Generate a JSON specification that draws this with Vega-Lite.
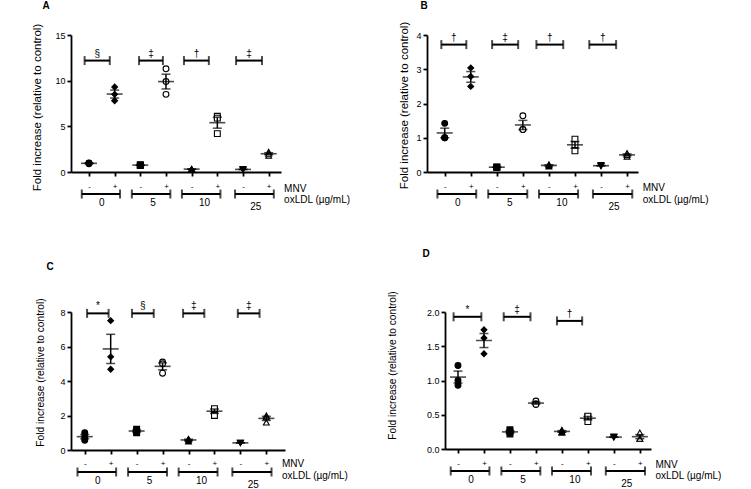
{
  "$schema": "https://vega.github.io/schema/vega-lite/v6.json",
  "padding": {"left": 31, "top": 0, "right": 5, "bottom": 0},
  "background": "white",
  "spacing": 36,
  "datasets": {
    "pts": [
      {"panel":"A","ox":"0","idx":0,"rep":1,"value":0.9},{"panel":"A","ox":"0","idx":0,"rep":2,"value":1.0},{"panel":"A","ox":"0","idx":0,"rep":3,"value":0.95},
      {"panel":"A","ox":"0","idx":1,"rep":1,"value":7.8},{"panel":"A","ox":"0","idx":1,"rep":2,"value":9.3},{"panel":"A","ox":"0","idx":1,"rep":3,"value":8.5},
      {"panel":"A","ox":"5","idx":2,"rep":1,"value":0.75},{"panel":"A","ox":"5","idx":2,"rep":2,"value":0.8},{"panel":"A","ox":"5","idx":2,"rep":3,"value":0.7},
      {"panel":"A","ox":"5","idx":3,"rep":1,"value":8.5},{"panel":"A","ox":"5","idx":3,"rep":2,"value":11.3},{"panel":"A","ox":"5","idx":3,"rep":3,"value":9.9},
      {"panel":"A","ox":"10","idx":4,"rep":1,"value":0.3},{"panel":"A","ox":"10","idx":4,"rep":2,"value":0.35},{"panel":"A","ox":"10","idx":4,"rep":3,"value":0.3},
      {"panel":"A","ox":"10","idx":5,"rep":1,"value":6.1},{"panel":"A","ox":"10","idx":5,"rep":2,"value":4.2},{"panel":"A","ox":"10","idx":5,"rep":3,"value":5.9},
      {"panel":"A","ox":"25","idx":6,"rep":1,"value":0.25},{"panel":"A","ox":"25","idx":6,"rep":2,"value":0.3},{"panel":"A","ox":"25","idx":6,"rep":3,"value":0.3},
      {"panel":"A","ox":"25","idx":7,"rep":1,"value":2.2},{"panel":"A","ox":"25","idx":7,"rep":2,"value":1.8},{"panel":"A","ox":"25","idx":7,"rep":3,"value":2.0},
      {"panel":"B","ox":"0","idx":0,"rep":1,"value":1.0},{"panel":"B","ox":"0","idx":0,"rep":2,"value":1.42},{"panel":"B","ox":"0","idx":0,"rep":3,"value":1.0},
      {"panel":"B","ox":"0","idx":1,"rep":1,"value":3.04},{"panel":"B","ox":"0","idx":1,"rep":2,"value":2.5},{"panel":"B","ox":"0","idx":1,"rep":3,"value":2.79},
      {"panel":"B","ox":"5","idx":2,"rep":1,"value":0.15},{"panel":"B","ox":"5","idx":2,"rep":2,"value":0.14},{"panel":"B","ox":"5","idx":2,"rep":3,"value":0.13},
      {"panel":"B","ox":"5","idx":3,"rep":1,"value":1.24},{"panel":"B","ox":"5","idx":3,"rep":2,"value":1.64},{"panel":"B","ox":"5","idx":3,"rep":3,"value":1.24},
      {"panel":"B","ox":"10","idx":4,"rep":1,"value":0.2},{"panel":"B","ox":"10","idx":4,"rep":2,"value":0.22},{"panel":"B","ox":"10","idx":4,"rep":3,"value":0.16},
      {"panel":"B","ox":"10","idx":5,"rep":1,"value":0.62},{"panel":"B","ox":"10","idx":5,"rep":2,"value":0.96},{"panel":"B","ox":"10","idx":5,"rep":3,"value":0.8},
      {"panel":"B","ox":"25","idx":6,"rep":1,"value":0.18},{"panel":"B","ox":"25","idx":6,"rep":2,"value":0.2},{"panel":"B","ox":"25","idx":6,"rep":3,"value":0.17},
      {"panel":"B","ox":"25","idx":7,"rep":1,"value":0.55},{"panel":"B","ox":"25","idx":7,"rep":2,"value":0.45},{"panel":"B","ox":"25","idx":7,"rep":3,"value":0.5},
      {"panel":"C","ox":"0","idx":0,"rep":1,"value":0.57},{"panel":"C","ox":"0","idx":0,"rep":2,"value":0.75},{"panel":"C","ox":"0","idx":0,"rep":3,"value":1.0},
      {"panel":"C","ox":"0","idx":1,"rep":1,"value":4.68},{"panel":"C","ox":"0","idx":1,"rep":2,"value":7.5},{"panel":"C","ox":"0","idx":1,"rep":3,"value":5.4},
      {"panel":"C","ox":"5","idx":2,"rep":1,"value":1.0},{"panel":"C","ox":"5","idx":2,"rep":2,"value":1.2},{"panel":"C","ox":"5","idx":2,"rep":3,"value":1.1},
      {"panel":"C","ox":"5","idx":3,"rep":1,"value":5.1},{"panel":"C","ox":"5","idx":3,"rep":2,"value":4.45},{"panel":"C","ox":"5","idx":3,"rep":3,"value":5.0},
      {"panel":"C","ox":"10","idx":4,"rep":1,"value":0.5},{"panel":"C","ox":"10","idx":4,"rep":2,"value":0.65},{"panel":"C","ox":"10","idx":4,"rep":3,"value":0.6},
      {"panel":"C","ox":"10","idx":5,"rep":1,"value":2.35},{"panel":"C","ox":"10","idx":5,"rep":2,"value":2.0},{"panel":"C","ox":"10","idx":5,"rep":3,"value":2.4},
      {"panel":"C","ox":"25","idx":6,"rep":1,"value":0.4},{"panel":"C","ox":"25","idx":6,"rep":2,"value":0.42},{"panel":"C","ox":"25","idx":6,"rep":3,"value":0.42},
      {"panel":"C","ox":"25","idx":7,"rep":1,"value":2.0},{"panel":"C","ox":"25","idx":7,"rep":2,"value":1.6},{"panel":"C","ox":"25","idx":7,"rep":3,"value":1.9},
      {"panel":"D","ox":"0","idx":0,"rep":1,"value":0.93},{"panel":"D","ox":"0","idx":0,"rep":2,"value":1.22},{"panel":"D","ox":"0","idx":0,"rep":3,"value":1.0},
      {"panel":"D","ox":"0","idx":1,"rep":1,"value":1.74},{"panel":"D","ox":"0","idx":1,"rep":2,"value":1.39},{"panel":"D","ox":"0","idx":1,"rep":3,"value":1.62},
      {"panel":"D","ox":"5","idx":2,"rep":1,"value":0.25},{"panel":"D","ox":"5","idx":2,"rep":2,"value":0.28},{"panel":"D","ox":"5","idx":2,"rep":3,"value":0.22},
      {"panel":"D","ox":"5","idx":3,"rep":1,"value":0.7},{"panel":"D","ox":"5","idx":3,"rep":2,"value":0.66},{"panel":"D","ox":"5","idx":3,"rep":3,"value":0.65},
      {"panel":"D","ox":"10","idx":4,"rep":1,"value":0.28},{"panel":"D","ox":"10","idx":4,"rep":2,"value":0.25},{"panel":"D","ox":"10","idx":4,"rep":3,"value":0.24},
      {"panel":"D","ox":"10","idx":5,"rep":1,"value":0.47},{"panel":"D","ox":"10","idx":5,"rep":2,"value":0.4},{"panel":"D","ox":"10","idx":5,"rep":3,"value":0.48},
      {"panel":"D","ox":"25","idx":6,"rep":1,"value":0.18},{"panel":"D","ox":"25","idx":6,"rep":2,"value":0.17},{"panel":"D","ox":"25","idx":6,"rep":3,"value":0.17},
      {"panel":"D","ox":"25","idx":7,"rep":1,"value":0.15},{"panel":"D","ox":"25","idx":7,"rep":2,"value":0.24},{"panel":"D","ox":"25","idx":7,"rep":3,"value":0.15}
    ],
    "sig": [
      {"panel":"A","gid":1,"idx":-0.17,"idx2":0.81,"value":12.2,"sym":"§"},
      {"panel":"A","gid":2,"idx":1.95,"idx2":2.88,"value":12.2,"sym":"‡"},
      {"panel":"A","gid":3,"idx":3.7,"idx2":4.67,"value":12.2,"sym":"†"},
      {"panel":"A","gid":4,"idx":5.73,"idx2":6.74,"value":12.2,"sym":"‡"},
      {"panel":"B","gid":1,"idx":-0.13,"idx2":0.83,"value":3.72,"sym":"†"},
      {"panel":"B","gid":2,"idx":1.82,"idx2":2.82,"value":3.72,"sym":"‡"},
      {"panel":"B","gid":3,"idx":3.52,"idx2":4.55,"value":3.72,"sym":"†"},
      {"panel":"B","gid":4,"idx":5.55,"idx2":6.58,"value":3.72,"sym":"†"},
      {"panel":"C","gid":1,"idx":0.09,"idx2":0.92,"value":7.92,"sym":"*"},
      {"panel":"C","gid":2,"idx":1.82,"idx2":2.66,"value":7.92,"sym":"§"},
      {"panel":"C","gid":3,"idx":3.79,"idx2":4.61,"value":7.92,"sym":"‡"},
      {"panel":"C","gid":4,"idx":5.9,"idx2":6.74,"value":7.92,"sym":"‡"},
      {"panel":"D","gid":1,"idx":-0.17,"idx2":0.9,"value":1.93,"sym":"*"},
      {"panel":"D","gid":2,"idx":1.76,"idx2":2.79,"value":1.93,"sym":"‡"},
      {"panel":"D","gid":3,"idx":3.81,"idx2":4.78,"value":1.87,"sym":"†"}
    ],
    "grp": [
      {"ox":"0","idx":-0.28,"idx2":1.21},
      {"ox":"5","idx":1.67,"idx2":3.17},
      {"ox":"10","idx":3.62,"idx2":5.12},
      {"ox":"25","idx":5.69,"idx2":7.2}
    ]
  },
  "vconcat": [
    {
      "bounds": "flush",
      "spacing": 146,
      "hconcat": [
        {
          "width": 210, "height": 137,
          "resolve": {"axis": {"x": "independent", "y": "independent"}},
          "layer": [
            {"data":{"name":"pts"},"transform":[{"filter":"datum.panel == 'A'"}],
             "mark":{"type":"point","filled":true,"stroke":"black","strokeWidth":1.1,"size":34,"opacity":1},
             "encoding":{
               "x": {"field":"idx","type":"quantitative","scale":{"domain":[-0.7,7.48],"nice":false,"zero":false},
                     "axis":{"values":[0,1,2,3,4,5,6,7],"labelExpr":"datum.value % 2 == 0 ? '-' : '+'","title":null,"labelFontSize":8,"labelPadding":6}},
               "y": {"field":"value","type":"quantitative","scale":{"domain":[0,15],"nice":false},
                     "axis":{"values":[0,5,10,15],"title":"Fold increase (relative to control)","titleFontSize":11.5,"titleX":-33.5,"titleY":72,"titleAngle":-90,"titleAlign":"center","titleBaseline":"middle"}},
               "xOffset":{"field":"rep","type":"quantitative","scale":{"domain":[1,3],"range":[-5,5]}},
               "shape":{"field":"idx","type":"nominal","scale":{"domain":[0,1,2,3,4,5,6,7],"range":["circle","diamond","square","circle","triangle-up","square","triangle-down","triangle-up"]},"legend":null},
               "fill":{"field":"idx","type":"nominal","scale":{"domain":[0,1,2,3,4,5,6,7],"range":["black","black","black","white","black","white","black","white"]},"legend":null}}},
            {"data":{"name":"pts"},"transform":[{"filter":"datum.panel == 'A'"},{"aggregate":[{"op":"mean","field":"value","as":"value"},{"op":"stderr","field":"value","as":"se"}],"groupby":["idx"]}],
             "mark":{"type":"errorbar","ticks":true,"size":9,"thickness":1.5,"color":"black"},
             "encoding":{"x":{"field":"idx","type":"quantitative","axis":null},"y":{"field":"value","type":"quantitative","axis":null},"yError":{"field":"se"}}},
            {"data":{"name":"pts"},"transform":[{"filter":"datum.panel == 'A'"},{"aggregate":[{"op":"mean","field":"value","as":"value"}],"groupby":["idx"]}],
             "mark":{"type":"tick","orient":"horizontal","size":16,"thickness":1.6,"color":"black"},
             "encoding":{"x":{"field":"idx","type":"quantitative","axis":null},"y":{"field":"value","type":"quantitative","axis":null}}},
            {"data":{"name":"sig"},"transform":[{"filter":"datum.panel == 'A'"}],
             "mark":{"type":"rule","strokeWidth":2,"color":"black"},
             "encoding":{"x":{"field":"idx","type":"quantitative","axis":null},"x2":{"field":"idx2"},"y":{"field":"value","type":"quantitative","axis":null}}},
            {"data":{"name":"sig"},"transform":[{"filter":"datum.panel == 'A'"},{"fold":["idx","idx2"],"as":["k","xv"]}],
             "mark":{"type":"tick","orient":"vertical","size":9,"thickness":2,"color":"black"},
             "encoding":{"x":{"field":"xv","type":"quantitative","axis":null},"y":{"field":"value","type":"quantitative","axis":null}}},
            {"data":{"name":"sig"},"transform":[{"filter":"datum.panel == 'A'"},{"fold":["idx","idx2"],"as":["k","xv"]},{"aggregate":[{"op":"mean","field":"xv","as":"xm"}],"groupby":["gid","sym","value"]}],
             "mark":{"type":"text","baseline":"bottom","dy":-2,"fontSize":10,"color":"black"},
             "encoding":{"x":{"field":"xm","type":"quantitative","axis":null},"y":{"field":"value","type":"quantitative","axis":null},"text":{"field":"sym"}}},
            {"data":{"name":"grp"},
             "mark":{"type":"rule","strokeWidth":2,"color":"black"},
             "encoding":{"x":{"field":"idx","type":"quantitative","axis":null},"x2":{"field":"idx2"},"y":{"datum":-2.41,"type":"quantitative","axis":null}}},
            {"data":{"name":"grp"},"transform":[{"fold":["idx","idx2"],"as":["k","xv"]}],
             "mark":{"type":"tick","orient":"vertical","size":9,"thickness":2,"color":"black"},
             "encoding":{"x":{"field":"xv","type":"quantitative","axis":null},"y":{"datum":-2.41,"type":"quantitative","axis":null}}},
            {"data":{"name":"pts"},"transform":[{"filter":"datum.panel == 'A' && datum.ox != '25'"},{"aggregate":[{"op":"mean","field":"idx","as":"xm"}],"groupby":["ox"]}],
             "mark":{"type":"text","baseline":"top","dy":4,"fontSize":10,"color":"black"},
             "encoding":{"x":{"field":"xm","type":"quantitative","axis":null},"y":{"datum":-2.41,"type":"quantitative","axis":null},"text":{"field":"ox"}}},
            {"data":{"name":"pts"},"transform":[{"filter":"datum.panel == 'A' && datum.ox == '25'"},{"aggregate":[{"op":"mean","field":"idx","as":"xm"}],"groupby":["ox"]}],
             "mark":{"type":"text","baseline":"top","dy":8,"fontSize":10,"color":"black"},
             "encoding":{"x":{"field":"xm","type":"quantitative","axis":null},"y":{"datum":-2.41,"type":"quantitative","axis":null},"text":{"field":"ox"}}},
            {"data":{"values":[{"t":"MNV"}]},
             "mark":{"type":"text","align":"left","baseline":"middle","dy":-5,"fontSize":10,"color":"black"},
             "encoding":{"text":{"field":"t"},"x":{"datum":7.6,"type":"quantitative","axis":null},"y":{"datum":-2.41,"type":"quantitative","axis":null}}},
            {"data":{"values":[{"t":"oxLDL (µg/mL)"}]},
             "mark":{"type":"text","align":"left","baseline":"middle","dy":6,"fontSize":10,"color":"black"},
             "encoding":{"text":{"field":"t"},"x":{"datum":7.6,"type":"quantitative","axis":null},"y":{"datum":-2.41,"type":"quantitative","axis":null}}},
            {"data":{"values":[{"t":"A"}]},
             "mark":{"type":"text","align":"center","baseline":"alphabetic","fontSize":10,"fontWeight":"bold","color":"black"},
             "encoding":{"text":{"field":"t"},"x":{"datum":-1.67,"type":"quantitative","axis":null},"y":{"datum":17.85,"type":"quantitative","axis":null}}}
          ]
        },
        {
          "width": 211, "height": 137,
          "resolve": {"axis": {"x": "independent", "y": "independent"}},
          "layer": [
            {"data":{"name":"pts"},"transform":[{"filter":"datum.panel == 'B'"}],
             "mark":{"type":"point","filled":true,"stroke":"black","strokeWidth":1.1,"size":34,"opacity":1},
             "encoding":{
               "x": {"field":"idx","type":"quantitative","scale":{"domain":[-0.68,7.42],"nice":false,"zero":false},
                     "axis":{"values":[0,1,2,3,4,5,6,7],"labelExpr":"datum.value % 2 == 0 ? '-' : '+'","title":null,"labelFontSize":8,"labelPadding":6}},
               "y": {"field":"value","type":"quantitative","scale":{"domain":[0,4],"nice":false},
                     "axis":{"values":[0,1,2,3,4],"title":"Fold increase (relative to control)","titleFontSize":11.5,"titleX":-23,"titleY":70,"titleAngle":-90,"titleAlign":"center","titleBaseline":"middle"}},
               "xOffset":{"field":"rep","type":"quantitative","scale":{"domain":[1,3],"range":[-5,5]}},
               "shape":{"field":"idx","type":"nominal","scale":{"domain":[0,1,2,3,4,5,6,7],"range":["circle","diamond","square","circle","triangle-up","square","triangle-down","triangle-up"]},"legend":null},
               "fill":{"field":"idx","type":"nominal","scale":{"domain":[0,1,2,3,4,5,6,7],"range":["black","black","black","white","black","white","black","white"]},"legend":null}}},
            {"data":{"name":"pts"},"transform":[{"filter":"datum.panel == 'B'"},{"aggregate":[{"op":"mean","field":"value","as":"value"},{"op":"stderr","field":"value","as":"se"}],"groupby":["idx"]}],
             "mark":{"type":"errorbar","ticks":true,"size":9,"thickness":1.5,"color":"black"},
             "encoding":{"x":{"field":"idx","type":"quantitative","axis":null},"y":{"field":"value","type":"quantitative","axis":null},"yError":{"field":"se"}}},
            {"data":{"name":"pts"},"transform":[{"filter":"datum.panel == 'B'"},{"aggregate":[{"op":"mean","field":"value","as":"value"}],"groupby":["idx"]}],
             "mark":{"type":"tick","orient":"horizontal","size":16,"thickness":1.6,"color":"black"},
             "encoding":{"x":{"field":"idx","type":"quantitative","axis":null},"y":{"field":"value","type":"quantitative","axis":null}}},
            {"data":{"name":"sig"},"transform":[{"filter":"datum.panel == 'B'"}],
             "mark":{"type":"rule","strokeWidth":2,"color":"black"},
             "encoding":{"x":{"field":"idx","type":"quantitative","axis":null},"x2":{"field":"idx2"},"y":{"field":"value","type":"quantitative","axis":null}}},
            {"data":{"name":"sig"},"transform":[{"filter":"datum.panel == 'B'"},{"fold":["idx","idx2"],"as":["k","xv"]}],
             "mark":{"type":"tick","orient":"vertical","size":9,"thickness":2,"color":"black"},
             "encoding":{"x":{"field":"xv","type":"quantitative","axis":null},"y":{"field":"value","type":"quantitative","axis":null}}},
            {"data":{"name":"sig"},"transform":[{"filter":"datum.panel == 'B'"},{"fold":["idx","idx2"],"as":["k","xv"]},{"aggregate":[{"op":"mean","field":"xv","as":"xm"}],"groupby":["gid","sym","value"]}],
             "mark":{"type":"text","baseline":"bottom","dy":-2,"fontSize":10,"color":"black"},
             "encoding":{"x":{"field":"xm","type":"quantitative","axis":null},"y":{"field":"value","type":"quantitative","axis":null},"text":{"field":"sym"}}},
            {"data":{"name":"grp"},
             "mark":{"type":"rule","strokeWidth":2,"color":"black"},
             "encoding":{"x":{"field":"idx","type":"quantitative","axis":null},"x2":{"field":"idx2"},"y":{"datum":-0.642,"type":"quantitative","axis":null}}},
            {"data":{"name":"grp"},"transform":[{"fold":["idx","idx2"],"as":["k","xv"]}],
             "mark":{"type":"tick","orient":"vertical","size":9,"thickness":2,"color":"black"},
             "encoding":{"x":{"field":"xv","type":"quantitative","axis":null},"y":{"datum":-0.642,"type":"quantitative","axis":null}}},
            {"data":{"name":"pts"},"transform":[{"filter":"datum.panel == 'B' && datum.ox != '25'"},{"aggregate":[{"op":"mean","field":"idx","as":"xm"}],"groupby":["ox"]}],
             "mark":{"type":"text","baseline":"top","dy":4,"fontSize":10,"color":"black"},
             "encoding":{"x":{"field":"xm","type":"quantitative","axis":null},"y":{"datum":-0.642,"type":"quantitative","axis":null},"text":{"field":"ox"}}},
            {"data":{"name":"pts"},"transform":[{"filter":"datum.panel == 'B' && datum.ox == '25'"},{"aggregate":[{"op":"mean","field":"idx","as":"xm"}],"groupby":["ox"]}],
             "mark":{"type":"text","baseline":"top","dy":8,"fontSize":10,"color":"black"},
             "encoding":{"x":{"field":"xm","type":"quantitative","axis":null},"y":{"datum":-0.642,"type":"quantitative","axis":null},"text":{"field":"ox"}}},
            {"data":{"values":[{"t":"MNV"}]},
             "mark":{"type":"text","align":"left","baseline":"middle","dy":-6,"fontSize":10,"color":"black"},
             "encoding":{"text":{"field":"t"},"x":{"datum":7.6,"type":"quantitative","axis":null},"y":{"datum":-0.642,"type":"quantitative","axis":null}}},
            {"data":{"values":[{"t":"oxLDL (µg/mL)"}]},
             "mark":{"type":"text","align":"left","baseline":"middle","dy":6,"fontSize":10,"color":"black"},
             "encoding":{"text":{"field":"t"},"x":{"datum":7.6,"type":"quantitative","axis":null},"y":{"datum":-0.642,"type":"quantitative","axis":null}}},
            {"data":{"values":[{"t":"B"}]},
             "mark":{"type":"text","align":"center","baseline":"alphabetic","fontSize":10,"fontWeight":"bold","color":"black"},
             "encoding":{"text":{"field":"t"},"x":{"datum":-0.79,"type":"quantitative","axis":null},"y":{"datum":4.76,"type":"quantitative","axis":null}}}
          ]
        }
      ]
    },
    {
      "bounds": "flush",
      "spacing": 160,
      "hconcat": [
        {
          "width": 214, "height": 138,
          "resolve": {"axis": {"x": "independent", "y": "independent"}},
          "layer": [
            {"data":{"name":"pts"},"transform":[{"filter":"datum.panel == 'C'"}],
             "mark":{"type":"point","filled":true,"stroke":"black","strokeWidth":1.1,"size":34,"opacity":1},
             "encoding":{
               "x": {"field":"idx","type":"quantitative","scale":{"domain":[-0.53,7.72],"nice":false,"zero":false},
                     "axis":{"values":[0,1,2,3,4,5,6,7],"labelExpr":"datum.value % 2 == 0 ? '-' : '+'","title":null,"labelFontSize":8,"labelPadding":5}},
               "y": {"field":"value","type":"quantitative","scale":{"domain":[0,8],"nice":false},
                     "axis":{"values":[0,2,4,6,8],"title":"Fold increase (relative to control)","titleFontSize":10.2,"titleX":-30.5,"titleY":60,"titleAngle":-90,"titleAlign":"center","titleBaseline":"middle"}},
               "xOffset":{"field":"rep","type":"quantitative","scale":{"domain":[1,3],"range":[-5,5]}},
               "shape":{"field":"idx","type":"nominal","scale":{"domain":[0,1,2,3,4,5,6,7],"range":["circle","diamond","square","circle","triangle-up","square","triangle-down","triangle-up"]},"legend":null},
               "fill":{"field":"idx","type":"nominal","scale":{"domain":[0,1,2,3,4,5,6,7],"range":["black","black","black","white","black","white","black","white"]},"legend":null}}},
            {"data":{"name":"pts"},"transform":[{"filter":"datum.panel == 'C'"},{"aggregate":[{"op":"mean","field":"value","as":"value"},{"op":"stderr","field":"value","as":"se"}],"groupby":["idx"]}],
             "mark":{"type":"errorbar","ticks":true,"size":9,"thickness":1.5,"color":"black"},
             "encoding":{"x":{"field":"idx","type":"quantitative","axis":null},"y":{"field":"value","type":"quantitative","axis":null},"yError":{"field":"se"}}},
            {"data":{"name":"pts"},"transform":[{"filter":"datum.panel == 'C'"},{"aggregate":[{"op":"mean","field":"value","as":"value"}],"groupby":["idx"]}],
             "mark":{"type":"tick","orient":"horizontal","size":16,"thickness":1.6,"color":"black"},
             "encoding":{"x":{"field":"idx","type":"quantitative","axis":null},"y":{"field":"value","type":"quantitative","axis":null}}},
            {"data":{"name":"sig"},"transform":[{"filter":"datum.panel == 'C'"}],
             "mark":{"type":"rule","strokeWidth":2,"color":"black"},
             "encoding":{"x":{"field":"idx","type":"quantitative","axis":null},"x2":{"field":"idx2"},"y":{"field":"value","type":"quantitative","axis":null}}},
            {"data":{"name":"sig"},"transform":[{"filter":"datum.panel == 'C'"},{"fold":["idx","idx2"],"as":["k","xv"]}],
             "mark":{"type":"tick","orient":"vertical","size":9,"thickness":2,"color":"black"},
             "encoding":{"x":{"field":"xv","type":"quantitative","axis":null},"y":{"field":"value","type":"quantitative","axis":null}}},
            {"data":{"name":"sig"},"transform":[{"filter":"datum.panel == 'C'"},{"fold":["idx","idx2"],"as":["k","xv"]},{"aggregate":[{"op":"mean","field":"xv","as":"xm"}],"groupby":["gid","sym","value"]}],
             "mark":{"type":"text","baseline":"bottom","dy":-2,"fontSize":10,"color":"black"},
             "encoding":{"x":{"field":"xm","type":"quantitative","axis":null},"y":{"field":"value","type":"quantitative","axis":null},"text":{"field":"sym"}}},
            {"data":{"name":"grp"},
             "mark":{"type":"rule","strokeWidth":2,"color":"black"},
             "encoding":{"x":{"field":"idx","type":"quantitative","axis":null},"x2":{"field":"idx2"},"y":{"datum":-1.275,"type":"quantitative","axis":null}}},
            {"data":{"name":"grp"},"transform":[{"fold":["idx","idx2"],"as":["k","xv"]}],
             "mark":{"type":"tick","orient":"vertical","size":9,"thickness":2,"color":"black"},
             "encoding":{"x":{"field":"xv","type":"quantitative","axis":null},"y":{"datum":-1.275,"type":"quantitative","axis":null}}},
            {"data":{"name":"pts"},"transform":[{"filter":"datum.panel == 'C' && datum.ox != '25'"},{"aggregate":[{"op":"mean","field":"idx","as":"xm"}],"groupby":["ox"]}],
             "mark":{"type":"text","baseline":"top","dy":4,"fontSize":10,"color":"black"},
             "encoding":{"x":{"field":"xm","type":"quantitative","axis":null},"y":{"datum":-1.275,"type":"quantitative","axis":null},"text":{"field":"ox"}}},
            {"data":{"name":"pts"},"transform":[{"filter":"datum.panel == 'C' && datum.ox == '25'"},{"aggregate":[{"op":"mean","field":"idx","as":"xm"}],"groupby":["ox"]}],
             "mark":{"type":"text","baseline":"top","dy":8,"fontSize":10,"color":"black"},
             "encoding":{"x":{"field":"xm","type":"quantitative","axis":null},"y":{"datum":-1.275,"type":"quantitative","axis":null},"text":{"field":"ox"}}},
            {"data":{"values":[{"t":"MNV"}]},
             "mark":{"type":"text","align":"left","baseline":"middle","dy":-8,"fontSize":10,"color":"black"},
             "encoding":{"text":{"field":"t"},"x":{"datum":7.6,"type":"quantitative","axis":null},"y":{"datum":-1.275,"type":"quantitative","axis":null}}},
            {"data":{"values":[{"t":"oxLDL (µg/mL)"}]},
             "mark":{"type":"text","align":"left","baseline":"middle","dy":4,"fontSize":10,"color":"black"},
             "encoding":{"text":{"field":"t"},"x":{"datum":7.6,"type":"quantitative","axis":null},"y":{"datum":-1.275,"type":"quantitative","axis":null}}},
            {"data":{"values":[{"t":"C"}]},
             "mark":{"type":"text","align":"center","baseline":"alphabetic","fontSize":10,"fontWeight":"bold","color":"black"},
             "encoding":{"text":{"field":"t"},"x":{"datum":-1.34,"type":"quantitative","axis":null},"y":{"datum":10.43,"type":"quantitative","axis":null}}}
          ]
        },
        {
          "width": 206, "height": 137,
          "resolve": {"axis": {"x": "independent", "y": "independent"}},
          "layer": [
            {"data":{"name":"pts"},"transform":[{"filter":"datum.panel == 'D'"}],
             "mark":{"type":"point","filled":true,"stroke":"black","strokeWidth":1.1,"size":34,"opacity":1},
             "encoding":{
               "x": {"field":"idx","type":"quantitative","scale":{"domain":[-0.5,7.43],"nice":false,"zero":false},
                     "axis":{"values":[0,1,2,3,4,5,6,7],"labelExpr":"datum.value % 2 == 0 ? '-' : '+'","title":null,"labelFontSize":8,"labelPadding":6}},
               "y": {"field":"value","type":"quantitative","scale":{"domain":[0,2],"nice":false},
                     "axis":{"values":[0,0.5,1,1.5,2],"format":".1f","title":"Fold increase (relative to control)","titleFontSize":10.2,"titleX":-53,"titleY":53,"titleAngle":-90,"titleAlign":"center","titleBaseline":"middle"}},
               "xOffset":{"field":"rep","type":"quantitative","scale":{"domain":[1,3],"range":[-5,5]}},
               "shape":{"field":"idx","type":"nominal","scale":{"domain":[0,1,2,3,4,5,6,7],"range":["circle","diamond","square","circle","triangle-up","square","triangle-down","triangle-up"]},"legend":null},
               "fill":{"field":"idx","type":"nominal","scale":{"domain":[0,1,2,3,4,5,6,7],"range":["black","black","black","white","black","white","black","white"]},"legend":null}}},
            {"data":{"name":"pts"},"transform":[{"filter":"datum.panel == 'D'"},{"aggregate":[{"op":"mean","field":"value","as":"value"},{"op":"stderr","field":"value","as":"se"}],"groupby":["idx"]}],
             "mark":{"type":"errorbar","ticks":true,"size":9,"thickness":1.5,"color":"black"},
             "encoding":{"x":{"field":"idx","type":"quantitative","axis":null},"y":{"field":"value","type":"quantitative","axis":null},"yError":{"field":"se"}}},
            {"data":{"name":"pts"},"transform":[{"filter":"datum.panel == 'D'"},{"aggregate":[{"op":"mean","field":"value","as":"value"}],"groupby":["idx"]}],
             "mark":{"type":"tick","orient":"horizontal","size":16,"thickness":1.6,"color":"black"},
             "encoding":{"x":{"field":"idx","type":"quantitative","axis":null},"y":{"field":"value","type":"quantitative","axis":null}}},
            {"data":{"name":"sig"},"transform":[{"filter":"datum.panel == 'D'"}],
             "mark":{"type":"rule","strokeWidth":2,"color":"black"},
             "encoding":{"x":{"field":"idx","type":"quantitative","axis":null},"x2":{"field":"idx2"},"y":{"field":"value","type":"quantitative","axis":null}}},
            {"data":{"name":"sig"},"transform":[{"filter":"datum.panel == 'D'"},{"fold":["idx","idx2"],"as":["k","xv"]}],
             "mark":{"type":"tick","orient":"vertical","size":9,"thickness":2,"color":"black"},
             "encoding":{"x":{"field":"xv","type":"quantitative","axis":null},"y":{"field":"value","type":"quantitative","axis":null}}},
            {"data":{"name":"sig"},"transform":[{"filter":"datum.panel == 'D'"},{"fold":["idx","idx2"],"as":["k","xv"]},{"aggregate":[{"op":"mean","field":"xv","as":"xm"}],"groupby":["gid","sym","value"]}],
             "mark":{"type":"text","baseline":"bottom","dy":-2,"fontSize":10,"color":"black"},
             "encoding":{"x":{"field":"xm","type":"quantitative","axis":null},"y":{"field":"value","type":"quantitative","axis":null},"text":{"field":"sym"}}},
            {"data":{"name":"grp"},
             "mark":{"type":"rule","strokeWidth":2,"color":"black"},
             "encoding":{"x":{"field":"idx","type":"quantitative","axis":null},"x2":{"field":"idx2"},"y":{"datum":-0.321,"type":"quantitative","axis":null}}},
            {"data":{"name":"grp"},"transform":[{"fold":["idx","idx2"],"as":["k","xv"]}],
             "mark":{"type":"tick","orient":"vertical","size":9,"thickness":2,"color":"black"},
             "encoding":{"x":{"field":"xv","type":"quantitative","axis":null},"y":{"datum":-0.321,"type":"quantitative","axis":null}}},
            {"data":{"name":"pts"},"transform":[{"filter":"datum.panel == 'D' && datum.ox != '25'"},{"aggregate":[{"op":"mean","field":"idx","as":"xm"}],"groupby":["ox"]}],
             "mark":{"type":"text","baseline":"top","dy":4,"fontSize":10,"color":"black"},
             "encoding":{"x":{"field":"xm","type":"quantitative","axis":null},"y":{"datum":-0.321,"type":"quantitative","axis":null},"text":{"field":"ox"}}},
            {"data":{"name":"pts"},"transform":[{"filter":"datum.panel == 'D' && datum.ox == '25'"},{"aggregate":[{"op":"mean","field":"idx","as":"xm"}],"groupby":["ox"]}],
             "mark":{"type":"text","baseline":"top","dy":8,"fontSize":10,"color":"black"},
             "encoding":{"x":{"field":"xm","type":"quantitative","axis":null},"y":{"datum":-0.321,"type":"quantitative","axis":null},"text":{"field":"ox"}}},
            {"data":{"values":[{"t":"MNV"}]},
             "mark":{"type":"text","align":"left","baseline":"middle","dy":-6,"fontSize":10,"color":"black"},
             "encoding":{"text":{"field":"t"},"x":{"datum":7.6,"type":"quantitative","axis":null},"y":{"datum":-0.321,"type":"quantitative","axis":null}}},
            {"data":{"values":[{"t":"oxLDL (µg/mL)"}]},
             "mark":{"type":"text","align":"left","baseline":"middle","dy":5,"fontSize":10,"color":"black"},
             "encoding":{"text":{"field":"t"},"x":{"datum":7.6,"type":"quantitative","axis":null},"y":{"datum":-0.321,"type":"quantitative","axis":null}}},
            {"data":{"values":[{"t":"D"}]},
             "mark":{"type":"text","align":"center","baseline":"alphabetic","fontSize":10,"fontWeight":"bold","color":"black"},
             "encoding":{"text":{"field":"t"},"x":{"datum":-1.23,"type":"quantitative","axis":null},"y":{"datum":2.8,"type":"quantitative","axis":null}}}
          ]
        }
      ]
    }
  ],
  "config": {
    "font": "Liberation Sans",
    "view": {"stroke": null},
    "axis": {"domainColor":"black","domainWidth":1.8,"tickColor":"black","tickWidth":1.8,"tickSize":4,"labelColor":"black","labelFontSize":9,"labelFont":"Liberation Sans","titleFont":"Liberation Sans","titleFontWeight":"normal","titleColor":"black","grid":false,"labelPadding":2},
    "text": {"font": "Liberation Sans"}
  }
}
